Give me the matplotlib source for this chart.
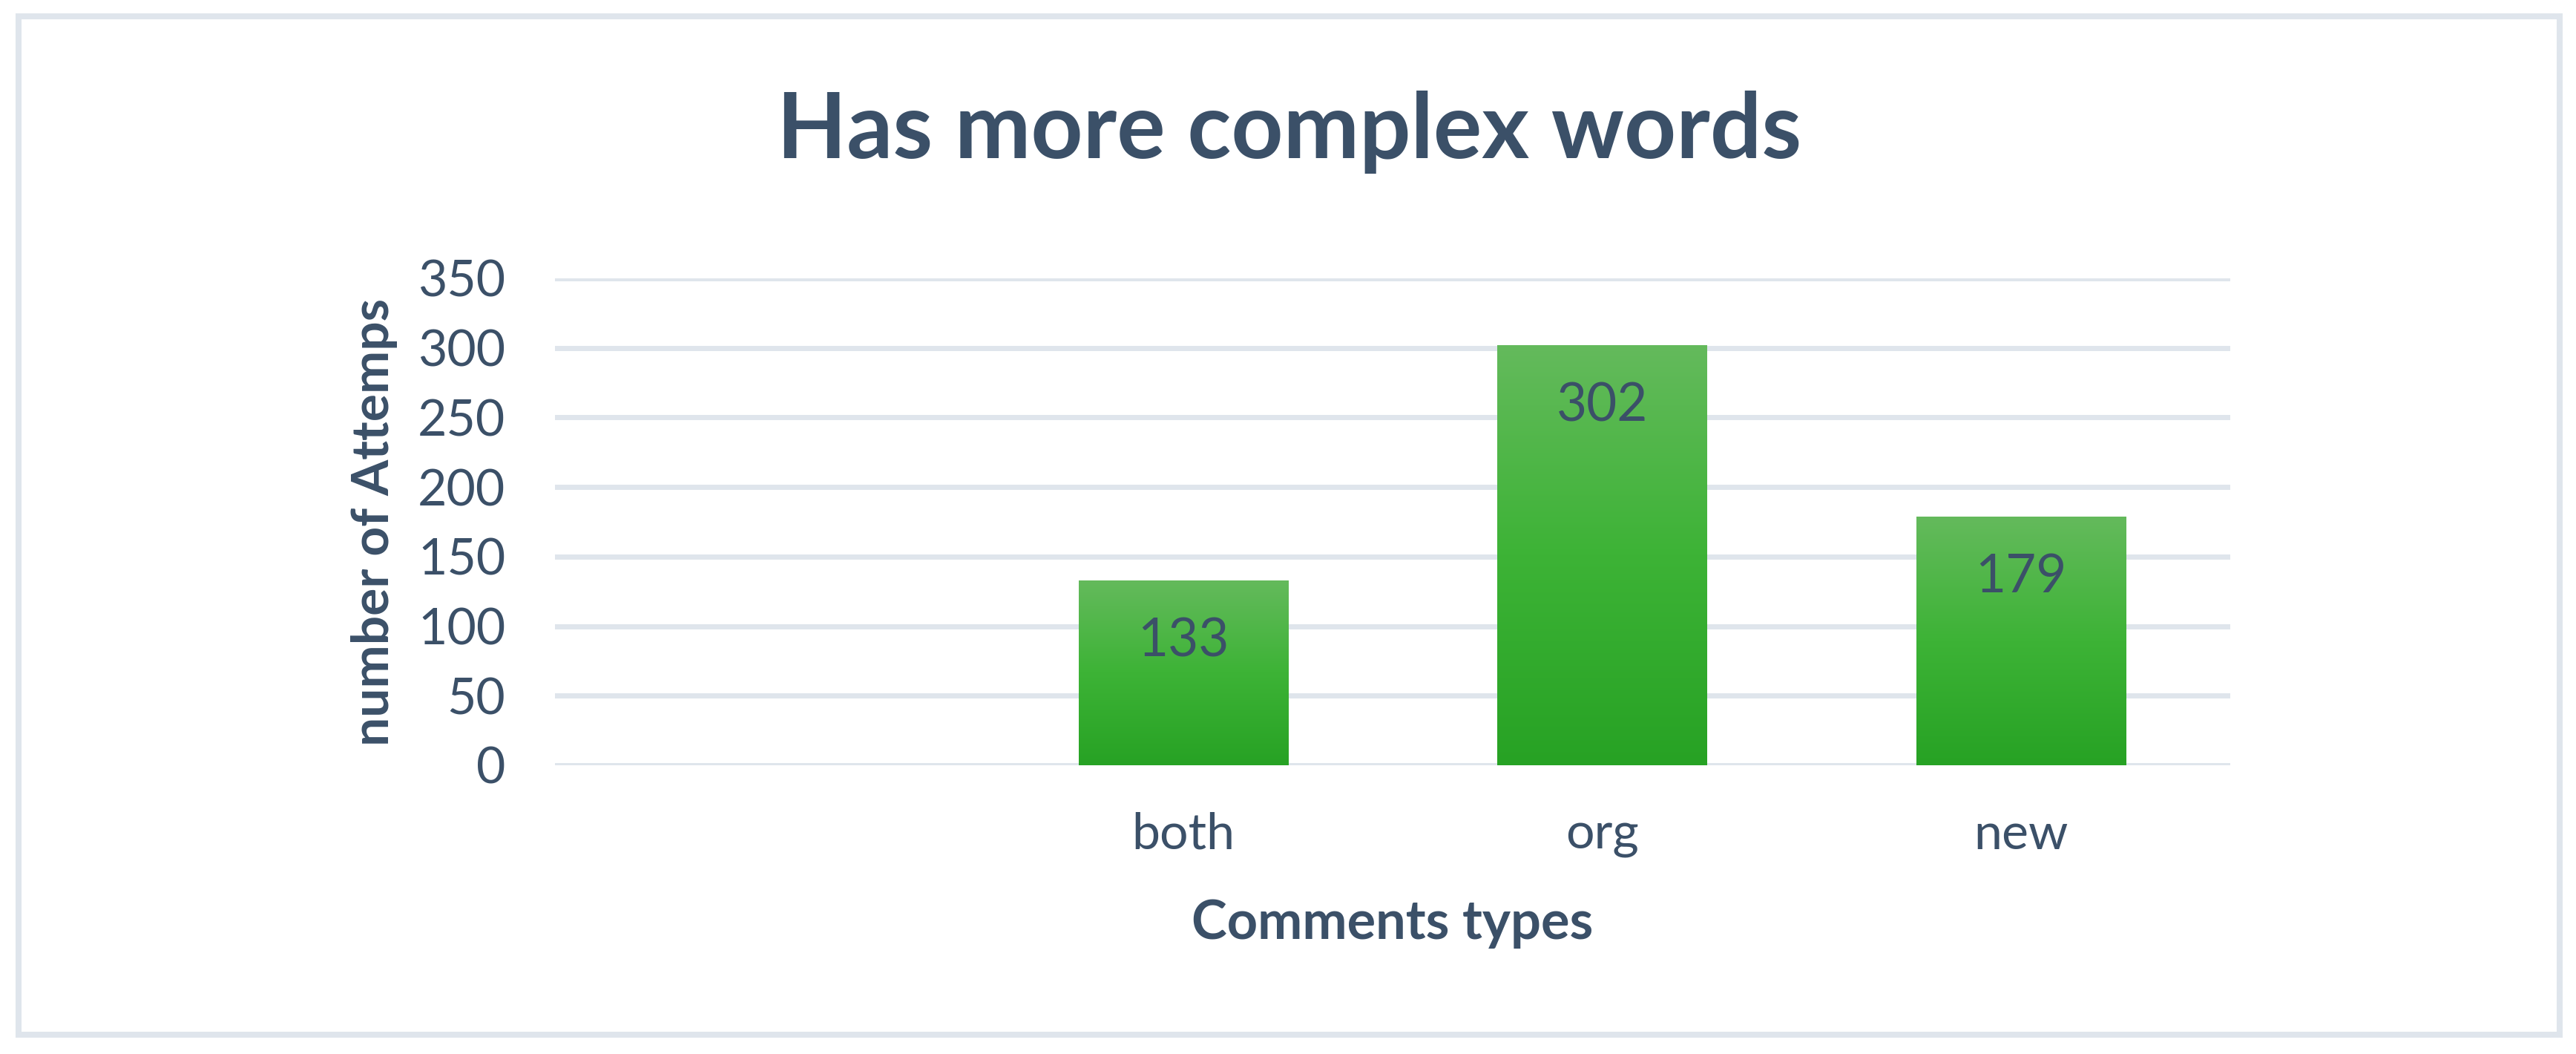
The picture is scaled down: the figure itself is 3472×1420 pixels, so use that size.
import numpy as np
import matplotlib
matplotlib.use("Agg")
import matplotlib.pyplot as plt
from matplotlib.colors import LinearSegmentedColormap
from matplotlib.patches import Rectangle

# data
categories = ["", "both", "org", "new"]
values = [np.nan, 133, 302, 179]
title = "Has more complex words"
x_title = "Comments types"
y_title = "number of Attemps"
y_ticks = [0, 50, 100, 150, 200, 250, 300, 350]

W, H = 3472, 1420
DPI = 100
TEXT = "#3B5068"
GRID = "#DFE5EC"

plt.rcParams["font.family"] = ["Lato", "DejaVu Sans"]

fig = plt.figure(figsize=(W / DPI, H / DPI), dpi=DPI)
fig.patch.set_facecolor("white")


def fx(px):
    return px / W


def fy(py):
    return 1 - py / H


# outer chart border
fig.patches.append(Rectangle((fx(25), fy(1394)), fx(3450 - 25), (1394 - 22) / H,
                             transform=fig.transFigure, fill=False,
                             edgecolor=GRID, linewidth=5.8))

ax = fig.add_axes([fx(748), fy(1031), fx(3006 - 748), (1031 - 375) / H])
x = np.arange(len(categories))
bars = ax.bar(x, values, width=0.5, color="none", edgecolor="none", zorder=3)

grad = LinearSegmentedColormap.from_list("g", ["#27A224", "#3DB336", "#64BA5C"])
g = np.linspace(0, 1, 256).reshape(-1, 1)
for b, v in zip(bars, values):
    if np.isnan(v):
        continue
    x0, w = b.get_x(), b.get_width()
    im = ax.imshow(g, cmap=grad, origin="lower", aspect="auto",
                   extent=[x0, x0 + w, 0, v], zorder=3)
    im.set_clip_path(b)
    ax.annotate(f"{v:.0f}", (x0 + w / 2, v), xytext=(0, -59),
                textcoords="offset points", ha="center", va="center",
                fontsize=51, color=TEXT, zorder=4)

ax.set_xlim(-0.5, len(categories) - 0.5)
ax.set_ylim(0, 350)
ax.set_yticks(y_ticks)
ax.set_xticks(x)
ax.set_xticklabels(categories)
ax.tick_params(axis="both", length=0, labelsize=49, labelcolor=TEXT)
ax.tick_params(axis="y", pad=48)
ax.tick_params(axis="x", pad=45)
ax.grid(axis="y", color=GRID, linewidth=5.0, zorder=0)
ax.set_axisbelow(True)
for s in ax.spines.values():
    s.set_visible(False)
ax.set_facecolor("none")

fig.text(fx(1738), fy(178), title, ha="center", va="center",
         fontsize=88, fontweight="bold", color=TEXT)
fig.text(fx(1877), fy(1244), x_title, ha="center", va="center",
         fontsize=52, fontweight="bold", color=TEXT)
fig.text(fx(505), fy(703), y_title, ha="center", va="center", rotation=90,
         fontsize=50, fontweight="bold", color=TEXT)

fig.savefig("out.png", dpi=DPI)
